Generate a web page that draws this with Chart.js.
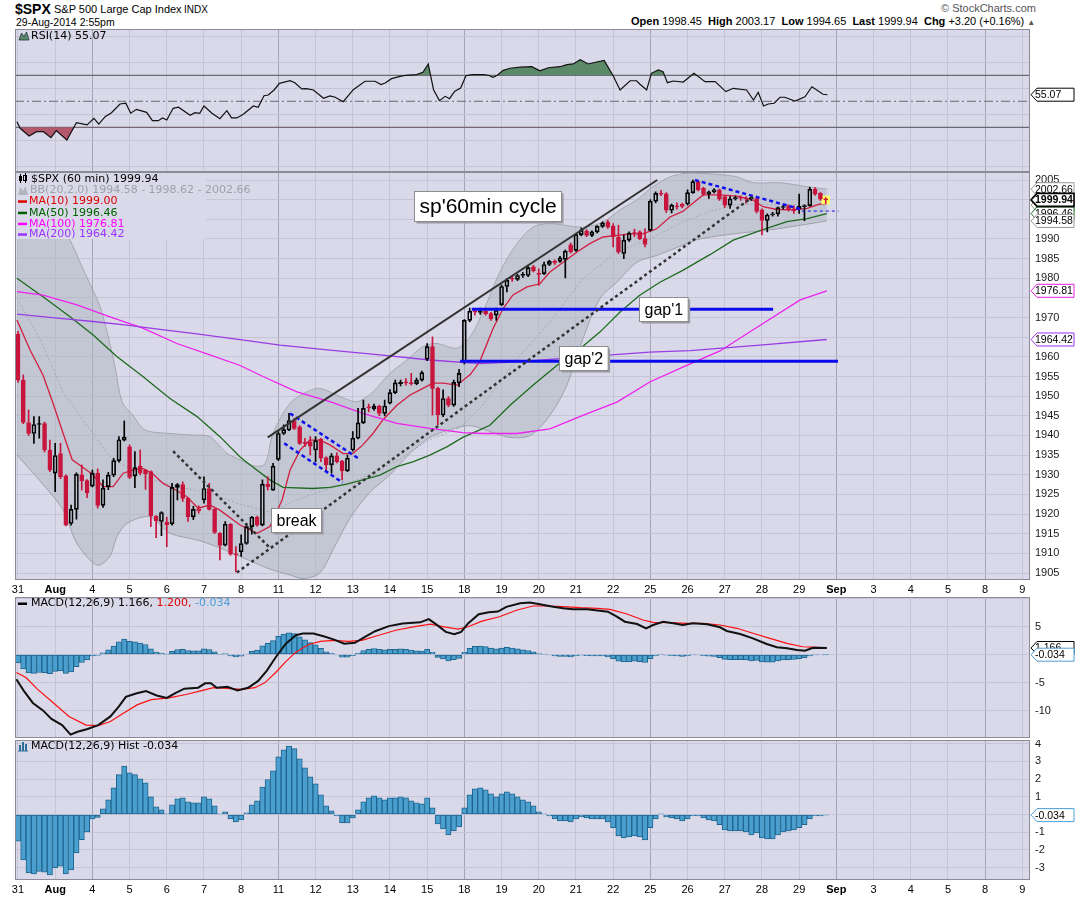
<!DOCTYPE html>
<html>
<head>
<meta charset="utf-8">
<script src="https://cdn.jsdelivr.net/npm/chart.js@4/dist/chart.umd.min.js"></script>
<style>
body { margin: 0; background: #fff; }
#wrap { position: relative; width: 1075px; height: 897px; overflow: hidden; font-family: "Liberation Sans", Arial, sans-serif; }
canvas { position: absolute; left: 0; }
.t { position: absolute; white-space: nowrap; color: #000; }
</style>
</head>
<body>
<div id="wrap">
  <div class="t" style="left:15px;top:1px;font-weight:bold;font-size:14px">$SPX</div>
  <div class="t" style="left:54px;top:3px;font-size:11px">S&amp;P 500 Large Cap Index</div>
  <div class="t" style="left:184px;top:4px;font-size:10px">INDX</div>
  <div class="t" style="left:16px;top:16px;font-size:10.5px">29-Aug-2014 2:55pm</div>
  <div class="t" style="left:941px;top:2px;font-size:11px;color:#555">&copy; StockCharts.com</div>
  <div class="t" style="left:631px;top:15px;font-size:11px"><b>Open</b> 1998.45 &nbsp;<b>High</b> 2003.17 &nbsp;<b>Low</b> 1994.65 &nbsp;<b>Last</b> 1999.94 &nbsp;<b>Chg</b> +3.20 (+0.16%) <span style="font-size:8px;color:#555">&#9650;</span></div>
  <canvas id="rsi" width="1075" height="143" style="top:29px"></canvas>
  <canvas id="price" width="1075" height="425" style="top:172px"></canvas>
  <canvas id="macd" width="1075" height="141" style="top:597px"></canvas>
  <canvas id="hist" width="1075" height="157" style="top:740px"></canvas>
</div>
<script>
// x values are hourly bar numbers, 7 bars per trading day, bar 0 = 31 Jul 9:30
var dayLabels = ['31','Aug','4','5','6','7','8','11','12','13','14','15','18','19','20','21','22','25','26','27','28','29','Sep','3','4','5','8','9'];

var opens = [
  1965.8,1954.1,1943.3,1940.5,1942.8,1943.0,1936.3,1930.4,1935.4,1929.7,
  1917.6,1921.2,1930.0,1928.5,1927.1,1930.4,1922.2,1927.0,1929.9,1933.6,
  1938.8,1937.1,1929.7,1932.2,1931.2,1930.8,1919.4,1918.1,1917.9,1917.5,
  1926.8,1927.5,1924.0,1919.3,1921.3,1923.6,1926.5,1921.2,1915.1,1912.1,
  1917.4,1909.8,1910.4,1912.5,1916.8,1919.2,1917.2,1927.6,1926.1,1933.9,
  1940.5,1941.4,1943.8,1942.2,1938.2,1938.4,1936.3,1939.0,1934.4,1932.5,
  1934.8,1933.5,1931.0,1936.3,1939.3,1943.2,1947.2,1946.8,1947.5,1945.6,
  1948.2,1950.9,1953.2,1953.6,1953.3,1953.2,1954.1,1959.4,1962.6,1952.0,
  1945.2,1949.4,1947.7,1953.4,1958.7,1969.3,1971.6,1971.3,1971.6,1971.0,
  1970.6,1973.3,1977.9,1980.0,1979.7,1980.7,1980.7,1982.9,1981.2,1981.2,
  1983.5,1984.3,1984.3,1984.8,1988.5,1987.1,1991.1,1992.0,1990.9,1991.8,
  1993.2,1994.3,1993.3,1990.5,1986.3,1989.7,1991.6,1991.8,1990.1,1992.2,
  1999.6,2001.6,2001.5,1997.3,1998.4,1998.8,1998.9,2001.8,2004.6,2002.9,
  2001.4,2002.0,2002.5,2000.8,1998.6,2000.2,2000.6,2000.4,2000.2,2000.3,
  1997.4,1994.7,1996.1,1996.4,1998.0,1998.4,1997.7,1997.6,1998.2,1998.5,
  2002.6,2001.6,2000.1
];
var highs = [
  1966.5,1955.4,1946.5,1944.8,1944.8,1943.4,1938.8,1938.0,1938.0,1930.0,
  1922.3,1930.5,1932.5,1928.8,1931.2,1931.5,1928.7,1930.6,1934.2,1939.7,
  1943.7,1937.6,1935.9,1936.3,1931.4,1931.0,1919.6,1920.6,1919.2,1927.8,
  1927.8,1928.2,1924.2,1922.0,1922.1,1929.5,1927.8,1921.4,1915.3,1918.1,
  1917.6,1911.7,1914.7,1917.6,1919.4,1919.5,1928.7,1929.5,1932.9,1941.0,
  1942.7,1945.6,1944.4,1942.5,1939.3,1939.7,1939.7,1939.3,1934.6,1935.4,
  1935.6,1933.7,1935.0,1941.0,1946.9,1949.0,1948.0,1948.0,1947.7,1949.0,
  1951.7,1954.1,1954.1,1954.5,1955.8,1954.6,1956.4,1963.4,1965.1,1952.3,
  1951.6,1949.9,1954.1,1956.8,1969.5,1972.4,1972.3,1972.4,1972.0,1971.3,
  1972.4,1978.3,1979.9,1980.6,1981.0,1981.5,1983.0,1983.3,1982.4,1984.1,
  1984.6,1984.7,1985.6,1987.2,1989.0,1991.4,1992.8,1992.4,1992.1,1993.4,
  1994.4,1994.8,1993.9,1993.5,1991.0,1991.8,1992.5,1992.1,1992.6,2000.0,
  2002.0,2002.4,2001.8,1998.9,1999.2,1999.1,2002.5,2005.0,2004.8,2003.2,
  2002.2,2002.8,2002.7,2001.0,2000.8,2000.9,2001.0,2000.8,2000.9,2000.6,
  1997.7,1996.4,1996.8,1998.2,1998.6,1998.7,1998.4,2001.4,1998.7,2003.17,
  2003.1,2001.8,2000.5
];
var lows = [
  1953.5,1943.0,1940.0,1938.0,1939.3,1935.8,1930.8,1925.7,1929.0,1917.0,
  1917.2,1918.7,1926.1,1924.2,1926.9,1921.5,1921.7,1926.2,1929.5,1933.2,
  1938.6,1929.0,1926.7,1930.0,1926.3,1916.8,1914.0,1914.5,1911.7,1917.2,
  1923.6,1923.2,1918.1,1918.6,1920.2,1922.8,1921.0,1915.0,1908.3,1911.9,
  1909.5,1905.3,1909.2,1912.3,1914.9,1916.9,1917.0,1926.1,1926.0,1933.6,
  1940.2,1941.2,1941.5,1937.7,1937.2,1935.0,1933.3,1933.3,1930.8,1930.4,
  1933.0,1928.7,1930.8,1936.0,1939.1,1943.0,1946.0,1946.4,1945.0,1945.0,
  1948.0,1950.6,1952.6,1952.8,1952.8,1952.9,1953.8,1959.0,1945.2,1942.7,
  1944.8,1947.3,1947.4,1952.4,1958.2,1968.9,1970.6,1970.8,1970.6,1969.3,
  1969.3,1973.0,1976.5,1979.2,1979.4,1980.2,1980.4,1981.6,1978.2,1980.9,
  1983.2,1983.5,1984.0,1980.1,1986.4,1986.8,1990.8,1990.6,1990.6,1991.5,
  1992.9,1992.7,1988.0,1986.3,1985.0,1989.4,1990.6,1989.8,1988.0,1992.0,
  1999.2,2001.0,1996.7,1996.6,1997.6,1997.9,1998.6,2001.6,2002.2,2001.0,
  2000.3,2001.7,1999.8,1998.0,1997.8,1999.9,1999.8,1999.1,1999.8,1996.6,
  1991.0,1991.8,1995.8,1995.8,1997.6,1997.1,1996.5,1996.5,1994.65,1998.3,
  2001.1,1999.8,1999.0
];
var closes = [
  1954.1,1943.3,1940.5,1942.8,1943.0,1936.3,1931.2,1934.9,1929.5,1917.2,
  1921.2,1930.1,1928.5,1925.4,1930.4,1922.2,1926.6,1929.9,1933.6,1938.9,
  1939.6,1929.3,1931.8,1930.4,1930.2,1919.5,1918.3,1920.4,1917.3,1926.8,
  1927.5,1924.0,1919.3,1921.2,1920.8,1926.5,1921.2,1915.3,1912.0,1917.4,
  1909.8,1909.6,1912.5,1916.8,1919.2,1917.2,1927.6,1927.0,1932.2,1940.5,
  1941.5,1943.8,1941.8,1938.0,1938.0,1937.3,1938.7,1934.2,1932.5,1934.8,
  1933.3,1931.0,1934.2,1939.3,1943.2,1946.9,1947.0,1947.5,1945.6,1947.5,
  1950.9,1953.4,1953.5,1953.4,1953.2,1954.1,1956.0,1962.6,1952.0,1945.2,
  1949.4,1947.7,1953.5,1955.8,1969.3,1971.6,1971.4,1971.5,1971.0,1969.7,
  1971.8,1977.9,1979.5,1979.8,1980.7,1981.0,1982.7,1981.9,1981.0,1983.5,
  1984.3,1983.9,1985.2,1986.9,1986.7,1991.1,1992.2,1990.9,1991.8,1993.2,
  1994.1,1993.0,1990.5,1986.7,1989.7,1991.5,1991.4,1990.1,1988.6,1999.6,
  2001.6,2001.4,1997.3,1998.6,1998.2,1998.3,2001.8,2004.6,2002.5,2001.4,
  2002.0,2002.5,2000.1,1998.6,2000.2,2000.5,2000.4,2000.2,2000.5,1997.0,
  1994.7,1996.1,1996.4,1998.0,1998.2,1997.5,1997.2,1998.3,1998.5,2002.6,
  2001.4,2000.1,1999.94
];

// overlays as [bar, value]
var ma10Pts = [[-0.2,1969.4],[2.3,1961.7],[4.7,1955.4],[6.6,1948.2],[8.5,1940.5],[10.2,1933.8],[12,1932.1],[14.1,1930],[16,1927],[17.9,1927],[19.8,1930.4],[21.6,1931.2],[23.5,1931.6],[25.4,1930.2],[27.3,1927.8],[29.2,1926.5],[31.8,1924.4],[33.9,1921.5],[36.1,1922.3],[38,1921],[40.5,1918.5],[41.8,1917.2],[45,1915.1],[47.4,1916.8],[49.7,1923.6],[51.2,1931.2],[53.1,1936.3],[54.9,1938.8],[56.8,1938.8],[58.7,1937.6],[61.2,1935.4],[63,1935.4],[64.9,1937.6],[66.8,1940.5],[68.7,1944],[71.3,1947.7],[73.8,1950.3],[76.2,1952],[78.1,1953.3],[80,1953.3],[82.6,1952.8],[85.1,1955.5],[86.9,1958.8],[89.4,1967.2],[91.3,1972.3],[93.1,1975.7],[95.8,1977.8],[98.2,1978.6],[100.1,1981.6],[102.6,1984.1],[105.2,1986.7],[107.6,1988.8],[110.1,1990.5],[112.7,1990.9],[115.2,1991.3],[117.6,1991.3],[120.2,1992.6],[122.7,1995.6],[125.1,1997],[128.9,2001.2],[132.1,2001.2],[135.3,2000.9],[138.3,1999.9],[140.2,1998.2],[142.8,1997.5],[145.8,1997.4],[148.5,1997.8],[150.9,1998.9],[152.2,1999.0]];
var ma50Pts = [[-0.2,1980],[4.7,1975.3],[9.8,1970.2],[14.1,1965.6],[18.6,1960.1],[23.5,1955],[28.6,1949.4],[33.7,1944.8],[38,1939.7],[41.8,1934.5],[43.7,1932.5],[47.4,1928.7],[49.9,1926.8],[55.5,1926.5],[58.7,1926.8],[61.9,1927.6],[64.9,1928.7],[68.1,1929.9],[71.3,1932.1],[74.3,1933.3],[77.5,1935],[80.7,1937.1],[83.7,1939.5],[86.9,1941.4],[88.8,1942.6],[92.6,1947.7],[96.9,1952.8],[101.4,1957.8],[105.8,1962.1],[109.5,1966.3],[113.3,1971.4],[117,1975.7],[120.8,1979],[125.1,1982],[130.2,1986],[134.6,1989.7],[140.2,1992.4],[144.7,1994.4],[148.5,1995.2],[152.2,1996.46]];
var ma100Pts = [[-0.2,1976.6],[4.7,1975.7],[11.1,1973.2],[17.3,1970.2],[23.5,1967.3],[29.9,1963.4],[36.1,1960.5],[41.8,1957.8],[46.1,1955],[52.5,1951.1],[58.7,1948.6],[64.9,1945.6],[71.3,1943.1],[77.5,1941.8],[83.7,1940.7],[87.5,1940.5],[93.9,1940.5],[100.1,1941.7],[106.3,1945.1],[112.7,1948.5],[118.9,1953.6],[125.1,1957.4],[132.1,1961.5],[139.6,1968],[147.2,1974.5],[152.2,1976.81]];
var ma200Pts = [[-0.2,1970.9],[7.9,1969.8],[14.1,1969],[20.5,1968.1],[26.7,1967],[32.9,1966],[41.8,1964.4],[49.3,1963],[58.7,1961.7],[68.1,1960.5],[77.5,1959.2],[86.9,1958.3],[93.9,1958.7],[106.3,1960],[118.9,1961.2],[126.5,1961.6],[139.6,1963],[152.2,1964.42]];
var bbUpPts = [[-0.2,2015],[4.1,2004],[7.9,1994],[9.8,1989.7],[11.7,1984],[13.9,1977.5],[15.4,1973],[16.9,1965.6],[18.3,1957.2],[19.6,1948.5],[21.6,1945.2],[23.9,1941.4],[28.6,1940.5],[32.9,1940.1],[36.1,1939.7],[39.3,1935.5],[41.8,1933.8],[44.6,1932.2],[46.5,1932.8],[48,1940.5],[51.2,1948.2],[54.4,1951.1],[56.8,1952],[60.6,1949.9],[63.8,1948.6],[66.8,1951.1],[70,1955.8],[73.2,1959.2],[76.2,1962.6],[78.8,1963.4],[82.6,1962.2],[85.1,1965.1],[87.5,1971.4],[90.7,1981.6],[93.9,1988.8],[96.9,1993],[100.1,1993.9],[106.3,1993],[110.1,1994.3],[113.3,1997.4],[116.5,2000],[119.5,2003.3],[122.7,2005.8],[125.9,2006.7],[130.8,2006.5],[135.3,2005.8],[138.3,2004.3],[143.4,2004.3],[148.5,2003.3],[152.2,2002.66]];
var bbMidPts = [[-0.2,1975],[4.7,1963],[8.5,1951],[12.2,1944],[17.3,1934.6],[23.5,1929.5],[29.9,1927],[36.1,1925.3],[41.8,1922.5],[47.4,1920.5],[53.1,1924],[58.7,1926.5],[64.4,1929],[71.9,1934],[77.5,1939],[83.2,1942],[87.5,1947.7],[93.9,1959.5],[100.1,1968.9],[106.3,1979.9],[112.7,1986.7],[118.9,1990],[125.1,1994.3],[130.2,1997],[135.3,1998.8],[141.5,1998.8],[152.2,1998.62]];
var bbLowPts = [[-0.2,1935],[4.1,1928.5],[8.5,1921],[11.1,1912.5],[14.9,1907],[17.3,1909.2],[18.6,1914.2],[20.5,1917.6],[24.8,1919.3],[28.6,1915.1],[33.7,1913.4],[37.4,1911.7],[41.8,1909.2],[47.4,1906],[51.2,1904.5],[53.6,1903.6],[56.8,1905],[59.7,1912],[62.5,1919],[66.2,1925.5],[70,1930],[73.8,1935.5],[77.5,1939.5],[81.3,1941.5],[85.1,1942.5],[88.8,1941],[92.6,1939.5],[96.4,1940],[100.1,1945.1],[103.3,1952.8],[106.3,1964.6],[109.5,1974.8],[112.7,1979],[116.5,1984.1],[120.2,1985.8],[125.1,1988.4],[128.3,1990],[135.9,1991.5],[141.5,1992.3],[152.2,1994.58]];

var rsiPts = [[-0.2,34.3],[0.4,29.2],[2.1,23.3],[3.5,26.6],[4.8,26.6],[6.2,22.0],[7.2,27.4],[9.2,20.2],[11,33.5],[13,31.8],[14.3,36.9],[15.2,32.5],[16.4,38.2],[17.6,41.2],[19.2,47.9],[20.3,48.5],[21.2,40.8],[22.3,43.8],[24.2,41.5],[25.3,35.1],[26.4,35.1],[27.2,37.2],[28,35.6],[29.2,44.6],[30.2,45.4],[32.4,39.2],[33.3,41.2],[34.2,40.8],[35,46.4],[36.5,40.8],[38,36.6],[39.3,42.8],[40.2,37.2],[41.2,37.2],[42.4,40.0],[44.3,46.4],[45.2,45.4],[46.3,54.3],[47.1,54.8],[48.2,58.7],[49.2,63.8],[51.2,65.8],[52.1,64.3],[53.4,59.5],[54.3,59.7],[55.6,58.7],[57.5,52.3],[58.7,54.1],[59.7,53.1],[61.2,49.7],[63.1,58.9],[65.3,65.4],[67.2,65.4],[68.3,62.8],[69.1,64.1],[70.3,67.4],[71.9,69.2],[73.1,70],[75,70.5],[76.2,72.3],[77.2,78.7],[78.2,58.9],[79.3,50.5],[80.4,53.8],[81.2,52],[82.2,57.7],[83.3,60.2],[84.3,69.7],[85.4,70.5],[87.6,70.5],[88.5,70],[89.4,68.5],[90.2,70],[91.3,73.8],[92.6,75.4],[94.5,76.2],[96.7,76.6],[98.2,73.5],[99.8,75.8],[102,76.6],[103.3,78.2],[104.5,78.7],[105.8,82],[107.3,78.7],[108.9,80.2],[110.3,81.5],[112,69.7],[113.3,58.7],[115.2,65.8],[116.4,65.8],[117,63.3],[118.3,58.7],[119.2,71.5],[120.5,74.1],[121.4,72.8],[122.2,64.3],[123.3,65.6],[125.2,64.8],[127.2,71.5],[129.3,65.1],[131.2,65.1],[133.2,57.4],[134.6,60.0],[137.1,58.7],[138.4,51.0],[139.3,56.9],[140.3,46.4],[141.2,47.9],[142.3,48.5],[143.4,53.1],[144.3,53.1],[146.2,50.2],[148.1,53.5],[149.4,61.2],[151.5,55.4],[152.3,55.07]];

var macdPts = [[-0.3,-4.42],[1.1,-6.5],[2.8,-8.65],[4.7,-9.98],[6.3,-11.5],[8.3,-12.6],[9.9,-14.3],[11.2,-13.8],[13.1,-13.3],[15.1,-12.6],[17.4,-11.05],[19,-9.25],[20.3,-7.56],[22.2,-6.96],[24.1,-6.53],[26.1,-7.32],[28,-7.74],[29.7,-6.84],[31.3,-6.1],[33.9,-5.93],[35.2,-5.14],[36.3,-5.14],[37.4,-5.93],[39.4,-5.75],[41.3,-6.42],[43.3,-5.93],[45.2,-4.72],[46.8,-2.91],[48.5,-0.49],[50.4,1.93],[52.3,3.44],[53.6,3.74],[55.6,3.74],[57.5,3.25],[59.5,2.65],[61.4,1.93],[63.4,2.1],[65.3,3.14],[67.2,4.16],[69.8,5.07],[72.4,5.54],[75.7,5.74],[77.3,6.33],[78.9,5.25],[80.5,4.04],[82.1,3.61],[83.4,4.04],[84.7,5.54],[86.7,7.18],[88.6,7.54],[90.3,7.67],[91.9,8.51],[94.5,9.14],[96.3,9.3],[98.2,8.96],[100.7,8.54],[102.6,8.25],[104.4,8.07],[107.1,8.07],[109.5,7.82],[111,7.65],[112.7,6.75],[114.2,5.86],[116.5,5.45],[118.2,4.68],[119.5,5.27],[121.4,5.86],[123.3,5.57],[125.1,5.27],[127,5.57],[129.7,5.39],[132.1,4.86],[133.4,4.2],[135.9,3.66],[138.3,2.89],[140.9,1.88],[142.8,1.29],[144.7,1.11],[146.6,0.8],[148.1,0.68],[149.6,1.21],[152.2,1.166]];
var signalPts = [[-0.3,-3.21],[1.5,-4.12],[3.7,-6.23],[6.3,-8.35],[9.6,-11.07],[12.8,-12.6],[15.1,-12.7],[17.4,-11.97],[19.9,-10.45],[22.5,-8.95],[25.1,-8.05],[28.4,-7.74],[31.6,-7.14],[34.2,-6.53],[36.8,-5.93],[39.4,-6.05],[42,-6.23],[44.6,-5.93],[46.5,-5.02],[48.5,-3.21],[50.4,-1.28],[52.3,0.42],[54.6,1.74],[56.9,2.35],[59.5,2.53],[62.1,2.35],[64.7,2.53],[67.9,3.44],[71.1,4.33],[74.4,4.95],[77.6,5.42],[80.2,4.95],[82.8,4.53],[84.7,4.95],[87.3,5.96],[90.6,6.75],[93.8,7.9],[96.9,8.66],[99.5,8.66],[102.6,8.54],[105.8,8.36],[109,8.25],[111.4,8.07],[114.6,7.23],[117.6,6.16],[119.5,5.75],[122.7,5.68],[125.9,5.57],[128.9,5.57],[132.1,5.27],[135.3,4.68],[138.3,3.79],[141.5,2.89],[144.7,2.0],[147.7,1.39],[150.4,1.29],[152.2,1.2]];
var histVals = [
  -1.51,-2.57,-3.30,-3.36,-3.21,-3.26,-3.42,-3.02,-2.92,-3.36,
  -3.13,-2.17,-1.42,-0.98,-0.25,-0.17,0.32,0.83,1.51,2.25,
  2.74,2.36,2.25,2.02,1.79,1.00,0.43,0.26,0.04,0.55,
  0.89,0.94,0.72,0.66,0.66,1.00,0.89,0.49,0.04,0.15,
  -0.25,-0.42,-0.30,0.09,0.55,0.77,1.55,1.98,2.47,3.26,
  3.66,3.87,3.72,3.15,2.64,2.13,1.74,1.11,0.49,0.21,
  -0.08,-0.47,-0.47,-0.19,0.26,0.72,0.94,1.06,0.94,0.83,
  0.94,0.94,1.00,0.94,0.77,0.66,0.60,0.94,0.38,-0.53,
  -0.81,-1.15,-0.92,-0.70,0.38,1.11,1.45,1.51,1.40,1.17,
  1.00,1.17,1.28,1.17,1.00,0.83,0.72,0.49,0.15,0.04,
  -0.08,-0.25,-0.36,-0.36,-0.42,-0.25,-0.13,-0.19,-0.25,-0.25,
  -0.25,-0.42,-0.75,-1.21,-1.32,-1.26,-1.21,-1.26,-1.43,-0.75,
  -0.25,0.04,-0.13,-0.19,-0.25,-0.36,-0.25,-0.06,-0.08,-0.19,
  -0.30,-0.36,-0.58,-0.87,-0.92,-0.92,-0.92,-0.98,-1.15,-1.04,
  -1.32,-1.38,-1.38,-1.15,-0.98,-0.92,-0.87,-0.75,-0.58,-0.25,
  -0.06,-0.08,-0.034
];

// hand drawn trend lines and gaps, [bar, price]
var channelTop = [[47.0,1939.5],[120.3,2005.0]];
var channelLow = [[41.2,1905.1],[138.3,2000.75]];
var breakLine = [[29.2,1936.0],[47.4,1911.4]];
var flagTop = [[51.2,1945.6],[64.0,1934.2]];
var flagLow = [[50.1,1938.0],[61.1,1928.0]];
var topLine = [[127.4,2005.0],[147.5,1997.5]];
var lastLevel = [[147.5,1997.1],[154.4,1997.1]];
var gap1Line = [[85.4,1972.1],[142.1,1972.1]];
var gap2Line = [[83.2,1958.9],[154.3,1958.9]];
var notes = [["sp'60min cycle",88.3,1998.5,21],["gap'1",121.4,1972.2,16],["gap'2",106.3,1959.8,16],["break",52.3,1918.6,16]];

var priceTicks = [1905,1910,1915,1920,1925,1930,1935,1940,1945,1950,1955,1960,1965,1970,1975,1980,1985,1990,1995,2000,2005];
var rsiTicks = [0,10,20,30,40,50,60,70,80,90,100];
var macdTicks = [-10,-5,0,5,10];
var histTicks = [-3,-2,-1,0,1,2,3,4];

var BG = '#d9d9e9', GRID = '#c5c5d7', GRID_MON = '#a4a4b6', FRAME = '#8a8a98';
var RED = '#c8143c', BLUE_BAR = '#4a9fcf', BLUE_EDGE = '#1f668f';
var XMIN = -0.56, XMAX = 190.44;
var dayTicks = dayLabels.map(function (l, d) { return d * 7; });
var darkDays = [2, 7, 12, 17, 22, 26];

Chart.defaults.font.family = '"Liberation Sans", Arial, sans-serif';

function pts(a) {
    return a.map(function (p) { return { x: p[0], y: p[1] }; });
}

function lineDs(a, color, width, dash, order) {
    return { type: 'line', data: pts(a), borderColor: color, borderWidth: width, borderDash: dash || [],
        pointRadius: 0, fill: false, tension: 0, order: order };
}

function drawTag(chart, t) {
    var ctx = chart.ctx, a = chart.chartArea;
    var y = chart.scales.y.getPixelForValue(t[0]);
    var x = a.right + 1, w = 43, h = 13;
    ctx.save();
    ctx.beginPath();
    ctx.moveTo(x, y);
    ctx.lineTo(x + 6, y - h / 2);
    ctx.lineTo(x + w, y - h / 2);
    ctx.lineTo(x + w, y + h / 2);
    ctx.lineTo(x + 6, y + h / 2);
    ctx.closePath();
    ctx.fillStyle = '#fff';
    ctx.fill();
    ctx.lineWidth = t[3] ? 1.6 : 1;
    ctx.strokeStyle = t[2];
    ctx.stroke();
    ctx.fillStyle = '#000';
    ctx.font = (t[3] ? 'bold ' : '') + '10.5px "Liberation Sans"';
    ctx.textBaseline = 'middle';
    ctx.fillText(t[1], x + 4, y + 0.5);
    ctx.restore();
}

function legendRow(ctx, x, y, parts) {
    ctx.save();
    ctx.textBaseline = 'middle';
    ctx.font = '11px "DejaVu Sans"';
    parts.forEach(function (p) {
        ctx.fillStyle = p[1];
        ctx.fillText(p[0], x, y);
        x += ctx.measureText(p[0]).width;
    });
    ctx.restore();
}

function panelPlugin(p) {
    return {
        id: 'panel',
        beforeDraw: function (chart) {
            var a = chart.chartArea, ctx = chart.ctx;
            ctx.save();
            ctx.fillStyle = BG;
            ctx.fillRect(a.left, a.top, a.right - a.left, a.bottom - a.top);
            ctx.restore();
        },
        afterDatasetsDraw: function (chart) {
            if (p.over) p.over(chart);
        },
        afterDraw: function (chart) {
            var a = chart.chartArea, ctx = chart.ctx;
            ctx.save();
            ctx.strokeStyle = FRAME;
            ctx.lineWidth = 1;
            ctx.strokeRect(a.left + 0.5, a.top + 0.5, a.right - a.left - 1, a.bottom - a.top - 1);
            ctx.restore();
            (p.tags || []).forEach(function (t) { drawTag(chart, t); });
        }
    };
}

function makeChart(id, p) {
    return new Chart(document.getElementById(id), {
        type: 'line',
        data: { datasets: p.datasets },
        options: {
            responsive: false,
            animation: false,
            events: [],
            layout: { autoPadding: false, padding: { left: 15, right: 0, top: 0, bottom: 0 } },
            plugins: { legend: { display: false }, tooltip: { enabled: false } },
            scales: {
                x: {
                    type: 'linear', min: XMIN, max: XMAX, offset: false, bounds: 'data',
                    afterBuildTicks: function (s) { s.ticks = dayTicks.map(function (v) { return { value: v }; }); },
                    afterFit: function (s) {
                        s.height = p.xLabels ? 17 : 0;
                        s.paddingLeft = 0; s.paddingRight = 0;
                    },
                    grid: {
                        drawTicks: false, offset: false,
                        color: function (c) {
                            var v = c.tick ? c.tick.value : -1;
                            return darkDays.indexOf(v / 7) >= 0 ? GRID_MON : GRID;
                        }
                    },
                    border: { display: false },
                    ticks: {
                        display: !!p.xLabels, autoSkip: false, maxRotation: 0, padding: 3, color: '#000',
                        font: function (c) {
                            var d = c.tick ? Math.round(c.tick.value / 7) : 0;
                            return { size: 11, weight: (d === 1 || d === 22) ? 'bold' : 'normal' };
                        },
                        callback: function (v) { return dayLabels[Math.round(v / 7)]; }
                    }
                },
                y: {
                    position: 'right', min: p.min, max: p.max, bounds: 'data',
                    afterBuildTicks: function (s) { s.ticks = p.ticks.map(function (v) { return { value: v }; }); },
                    afterFit: function (s) {
                        s.width = 45;
                        s.paddingTop = 0; s.paddingBottom = 0;
                    },
                    grid: { color: GRID, drawTicks: false },
                    border: { display: false },
                    ticks: { padding: 5, color: '#1a1a1a', font: { size: 11 }, callback: p.label }
                }
            }
        },
        plugins: [panelPlugin(p)]
    });
}

// ---- RSI ----
var RSI_LINE = '#6a6a74';
makeChart('rsi', {
    min: -4.4, max: 105.6, ticks: rsiTicks,
    label: function (v) { return [10, 30, 50, 70, 90].indexOf(v) >= 0 ? String(v) : ''; },
    tags: [[55.07, '55.07', '#000', false]],
    datasets: [
        lineDs([[XMIN, 70], [XMAX, 70]], RSI_LINE, 1.3, [], 5),
        lineDs([[XMIN, 30], [XMAX, 30]], RSI_LINE, 1.3, [], 5),
        lineDs([[XMIN, 50], [XMAX, 50]], RSI_LINE, 1, [9, 3, 2, 3], 5),
        { type: 'line', data: pts(rsiPts), borderColor: '#111', borderWidth: 1.2, pointRadius: 0, tension: 0, order: 1,
          fill: { target: { value: 70 }, above: '#5c8a68', below: 'rgba(0,0,0,0)' } },
        { type: 'line', data: pts(rsiPts), borderColor: 'rgba(0,0,0,0)', borderWidth: 0, pointRadius: 0, tension: 0, order: 2,
          fill: { target: { value: 30 }, above: 'rgba(0,0,0,0)', below: '#b4586c' } }
    ],
    over: function (chart) {
        var ctx = chart.ctx;
        ctx.save();
        ctx.beginPath();
        ctx.moveTo(19, 11); ctx.lineTo(21.5, 4); ctx.lineTo(24, 7.5); ctx.lineTo(26.5, 3); ctx.lineTo(29, 11); ctx.closePath();
        ctx.fillStyle = '#5c8a68'; ctx.fill();
        ctx.strokeStyle = '#234'; ctx.lineWidth = 0.8; ctx.stroke();
        ctx.restore();
        legendRow(ctx, 31, 7.5, [['RSI(14) 55.07', '#000']]);
    }
});

// ---- price ----
var isDown = closes.map(function (c, i) { return c < opens[i]; });
var candleColor = isDown.map(function (d) { return d ? RED : '#000'; });
var bodyFill = isDown.map(function (d) { return d ? RED : 'rgba(0,0,0,0)'; });
var bodies = closes.map(function (c, i) { return { x: i, y: [opens[i], c] }; });
var upWicks = closes.map(function (c, i) { return { x: i, y: [Math.max(opens[i], c), highs[i]] }; });
var loWicks = closes.map(function (c, i) { return { x: i, y: [lows[i], Math.min(opens[i], c)] }; });

makeChart('price', {
    xLabels: true,
    min: 1903.22, max: 2007.04, ticks: priceTicks,
    label: function (v) { return [2000, 1995, 1975, 1965].indexOf(v) >= 0 ? '' : String(v); },
    tags: [[2002.66, '2002.66', '#999', false], [1998.62, '1998.62', '#999', false], [1976.81, '1976.81', '#e020e0', false],
           [1964.42, '1964.42', '#9933ee', false], [1996.46, '1996.46', '#1a6a1a', false], [1994.58, '1994.58', '#999', false],
           [1999.94, '1999.94', '#000', true]],
    datasets: [
        { type: 'line', data: pts(bbUpPts), borderColor: 'rgba(150,150,160,0.8)', borderWidth: 1, pointRadius: 0, tension: 0.3, fill: false, order: 30 },
        { type: 'line', data: pts(bbLowPts), borderColor: 'rgba(150,150,160,0.8)', borderWidth: 1, pointRadius: 0, tension: 0.3,
          fill: '-1', backgroundColor: 'rgba(172,182,190,0.5)', order: 29 },
        lineDs(bbMidPts, '#a9a9b4', 1, [2, 2], 25),
        lineDs(ma200Pts, '#9a3ce6', 1.3, [], 20),
        lineDs(ma100Pts, '#ee22ee', 1.3, [], 20),
        lineDs(ma50Pts, '#1e6b1e', 1.3, [], 20),
        lineDs(ma10Pts, '#d21e40', 1.3, [], 20),
        { type: 'line', data: [{ x: 152, y: 1999.94 }], showLine: false, pointStyle: 'rect', pointRadius: 6,
          pointBackgroundColor: '#ffff66', pointBorderWidth: 0, order: 14 },
        { type: 'bar', data: upWicks, backgroundColor: candleColor, barThickness: 1, grouped: false, borderWidth: 0, order: 12 },
        { type: 'bar', data: loWicks, backgroundColor: candleColor, barThickness: 1, grouped: false, borderWidth: 0, order: 12 },
        { type: 'bar', data: bodies, backgroundColor: bodyFill, borderColor: candleColor, borderWidth: 1, borderSkipped: false,
          barThickness: 4, minBarLength: 1, grouped: false, order: 11 },
        lineDs(channelTop, '#333', 2, [], 3),
        lineDs(channelLow, '#333', 2.5, [3, 3], 3),
        lineDs(breakLine, '#333', 2.5, [3, 3], 3),
        lineDs(flagTop, '#1010ee', 2.5, [4, 3], 3),
        lineDs(flagLow, '#1010ee', 2.5, [4, 3], 3),
        lineDs(topLine, '#1010ee', 2.5, [4, 3], 3),
        lineDs(lastLevel, '#1010ee', 1, [3, 3], 3),
        lineDs(gap1Line, '#0a0aee', 3, [], 3),
        lineDs(gap2Line, '#0a0aee', 3, [], 3)
    ],
    over: function (chart) {
        var ctx = chart.ctx, a = chart.chartArea, xs = chart.scales.x, ys = chart.scales.y;
        ctx.save();
        notes.forEach(function (n) {
            ctx.font = n[3] + 'px "Liberation Sans"';
            var w = ctx.measureText(n[0]).width + 10, h = Math.round(n[3] * 1.2 + 5);
            var cx = xs.getPixelForValue(n[1]), cy = ys.getPixelForValue(n[2]);
            var x0 = Math.round(cx - w / 2) + 0.5, y0 = Math.round(cy - h / 2) + 0.5;
            ctx.fillStyle = '#9a9aa4';
            ctx.fillRect(x0 + 2, y0 + 2, w, h);
            ctx.fillStyle = '#fff';
            ctx.fillRect(x0, y0, w, h);
            ctx.strokeStyle = '#8c8c8c';
            ctx.lineWidth = 1;
            ctx.strokeRect(x0, y0, w, h);
            ctx.fillStyle = '#000';
            ctx.textBaseline = 'middle';
            ctx.fillText(n[0], x0 + 5, y0 + h / 2 + 1);
        });
        // legend block
        ctx.fillStyle = BG;
        ctx.fillRect(a.left + 1, a.top + 1, 190, 66);
        ctx.fillStyle = '#000';
        ctx.fillRect(20, 2, 1, 9); ctx.fillRect(19, 4, 3, 5);
        ctx.fillRect(25, 1, 1, 10); ctx.strokeStyle = '#000'; ctx.strokeRect(23.5, 3.5, 3, 5);
        ctx.beginPath();
        ctx.moveTo(18, 23); ctx.lineTo(20.5, 15); ctx.lineTo(23, 19); ctx.lineTo(25.5, 14); ctx.lineTo(28, 23); ctx.closePath();
        ctx.fillStyle = '#b4b4bc'; ctx.fill();
        [[29.3, '#e00000'], [40.7, '#006000'], [51.7, '#ff00ff'], [62.3, '#9933ff']].forEach(function (r) {
            ctx.fillStyle = r[1];
            ctx.fillRect(18, r[0] - 1, 9, 2.5);
        });
        ctx.restore();
        legendRow(ctx, 31, 6.7, [['$SPX (60 min) 1999.94', '#000']]);
        legendRow(ctx, 30, 18.3, [['BB(20,2.0) 1994.58 - 1998.62 - 2002.66', '#a0a0a8']]);
        legendRow(ctx, 29, 29.3, [['MA(10) 1999.00', '#e00000']]);
        legendRow(ctx, 29, 40.7, [['MA(50) 1996.46', '#006000']]);
        legendRow(ctx, 29, 51.7, [['MA(100) 1976.81', '#ff00ff']]);
        legendRow(ctx, 29, 62.3, [['MA(200) 1964.42', '#9933ff']]);
    }
});

// ---- MACD ----
var histData = histVals.map(function (v, i) { return { x: i, y: v }; });
makeChart('macd', {
    min: -14.91, max: 10.27, ticks: macdTicks,
    label: function (v) { return (v === 0 || v === 10) ? '' : String(v); },
    tags: [[1.166, '1.166', '#000', false], [-0.034, '-0.034', '#4a9fd6', false]],
    datasets: [
        { type: 'bar', data: histData, backgroundColor: BLUE_BAR, borderColor: BLUE_EDGE, borderWidth: 1, borderSkipped: false,
          barThickness: 5.3, grouped: false, order: 5 },
        lineDs(signalPts, '#ff1010', 1.2, [], 2),
        lineDs(macdPts, '#111', 2, [], 1)
    ],
    over: function (chart) {
        var ctx = chart.ctx;
        ctx.save();
        ctx.fillStyle = '#000';
        ctx.fillRect(18, 5.5, 9, 2.5);
        ctx.restore();
        legendRow(ctx, 31, 6.5, [['MACD(12,26,9) 1.166,', '#000'], [' 1.200,', '#e00000'], [' -0.034', '#4a9fd6']]);
    }
});

// ---- MACD histogram ----
makeChart('hist', {
    xLabels: true,
    min: -3.70, max: 4.21, ticks: histTicks,
    label: function (v) { return v === 0 ? '' : String(v); },
    tags: [[-0.034, '-0.034', '#4a9fd6', false]],
    datasets: [
        { type: 'bar', data: histData, backgroundColor: BLUE_BAR, borderColor: BLUE_EDGE, borderWidth: 1, borderSkipped: false,
          barThickness: 5.3, grouped: false, order: 5 }
    ],
    over: function (chart) {
        var ctx = chart.ctx;
        ctx.save();
        ctx.fillStyle = '#2a6e9a';
        ctx.fillRect(19, 5, 2, 6); ctx.fillRect(22, 2, 2, 9); ctx.fillRect(25, 4, 2, 7);
        ctx.fillRect(18, 10.5, 10, 1);
        ctx.restore();
        legendRow(ctx, 31, 6, [['MACD(12,26,9) Hist -0.034', '#000']]);
    }
});
</script>
</body>
</html>
